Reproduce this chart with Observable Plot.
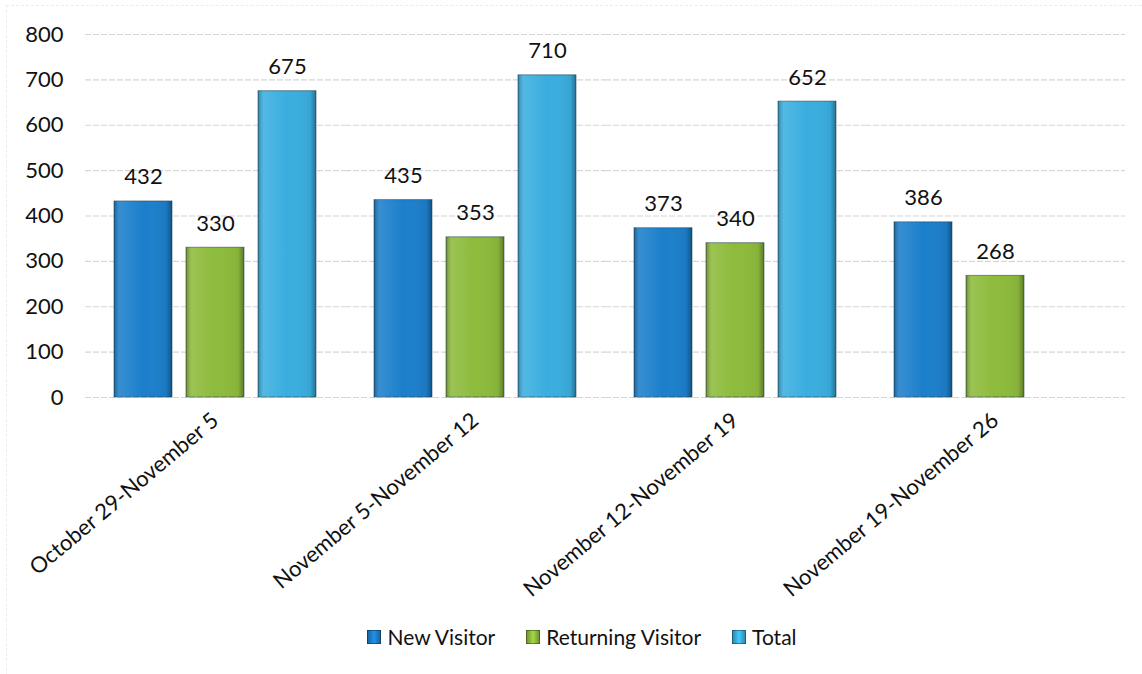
<!DOCTYPE html>
<html>
<head>
<meta charset="utf-8">
<script src="https://cdn.jsdelivr.net/npm/d3@7"></script>
<script src="https://cdn.jsdelivr.net/npm/@observablehq/plot@0.6"></script>
<style>
  html, body { margin: 0; padding: 0; background: #fff; }
  body { width: 1142px; height: 674px; overflow: hidden; font-family: Lato, "Open Sans", sans-serif; position: relative; }
  #frame { position: absolute; left: 6px; top: 5px; width: 1200px; height: 700px; border-left: 1px dashed #ececec; border-top: 1px dashed #ececec; pointer-events: none; }
  #chart { position: relative; }
  .legend { display: flex; justify-content: center; align-items: center; gap: 31px; font-size: 21px; color: #111; margin-top: 2px; padding-left: 22px; }
  .legend span.item { display: inline-flex; align-items: center; gap: 6px; }
  .legend i { display: inline-block; width: 14px; height: 14px; border: 1px solid rgba(0,0,0,0.35); box-sizing: border-box; }
</style>
</head>
<body>
<div id="frame"></div>
<svg width="0" height="0" style="position:absolute">
  <defs>
    <linearGradient id="shadeH" x1="0" x2="1" y1="0" y2="0">
      <stop offset="0" stop-color="#000" stop-opacity="0.28"/>
      <stop offset="0.1" stop-color="#fff" stop-opacity="0.12"/>
      <stop offset="0.5" stop-color="#fff" stop-opacity="0.0"/>
      <stop offset="0.9" stop-color="#000" stop-opacity="0.05"/>
      <stop offset="1" stop-color="#000" stop-opacity="0.35"/>
    </linearGradient>
  </defs>
</svg>
<div id="chart"></div>
<script>
const groups = ["October 29-November 5", "November 5-November 12", "November 12-November 19", "November 19-November 26"];
const series = ["New Visitor", "Returning Visitor", "Total"];
const newVisitor = [432, 435, 373, 386];
const returningVisitor = [330, 353, 340, 268];
const total = [675, 710, 652, null];
const colors = ["#1c7fcb", "#8dbb3c", "#3aaedf"];
const yTicks = [0, 100, 200, 300, 400, 500, 600, 700, 800];

const data = [];
groups.forEach((g, i) => {
  [newVisitor, returningVisitor, total].forEach((arr, j) => {
    if (arr[i] != null) data.push({group: g, series: series[j], value: arr[i]});
  });
});

const plot = Plot.plot({
  width: 1142,
  height: 622,
  marginTop: 34,
  marginBottom: 225,
  marginLeft: 85,
  marginRight: 17,
  style: {fontFamily: "Lato, 'Open Sans', sans-serif", fontSize: "22px", color: "#111", background: "transparent", overflow: "visible"},
  fx: {domain: groups, padding: 0, label: null, tickSize: 0, tickPadding: 20, tickRotate: -40},
  x: {domain: series, paddingInner: 0.2, paddingOuter: 0.4, axis: null},
  y: {domain: [0, 800], ticks: yTicks, label: null, tickSize: 0, tickPadding: 22, tickFormat: d3.format("d")},
  color: {domain: series, range: colors},
  marks: [
    Plot.ruleY(yTicks, {stroke: "#d6d6d6", strokeWidth: 1.2, strokeDasharray: "6,2"}),
    Plot.barY(data, {fx: "group", x: "series", y: "value", fill: "series", stroke: "#2a4a5a", strokeOpacity: 0.6, strokeWidth: 1}),
    Plot.barY(data, {fx: "group", x: "series", y: "value", fill: "url(#shadeH)"}),
    Plot.text(data, {fx: "group", x: "series", y: "value", text: d => String(d.value), lineAnchor: "bottom", dy: -17, fontSize: 22, fill: "#111"})
  ]
});
document.getElementById("chart").appendChild(plot);

const legend = document.createElement("div");
legend.className = "legend";
series.forEach((s, i) => {
  const item = document.createElement("span");
  item.className = "item";
  const sw = document.createElement("i");
  sw.style.background = `linear-gradient(90deg, ${d3.color(colors[i]).darker(0.6)} 0%, ${d3.color(colors[i]).brighter(0.4)} 50%, ${d3.color(colors[i]).darker(0.6)} 100%)`;
  item.appendChild(sw);
  item.appendChild(document.createTextNode(s));
  legend.appendChild(item);
});
document.getElementById("chart").appendChild(legend);
</script>
</body>
</html>
